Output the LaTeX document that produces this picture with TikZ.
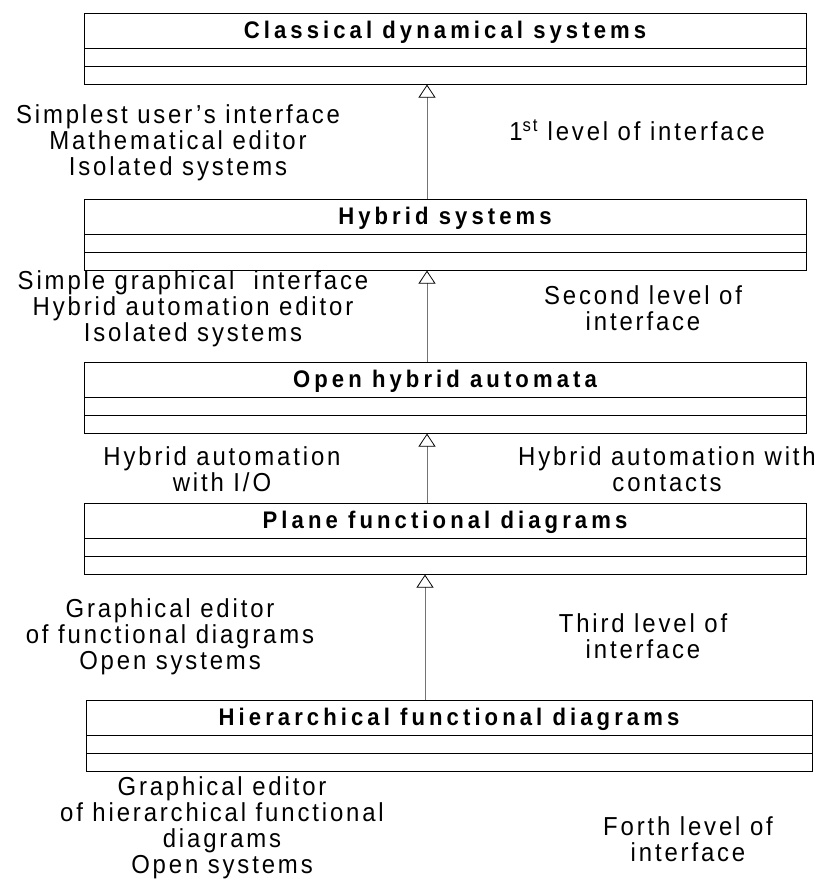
\documentclass[tikz,border=0pt]{standalone}
\usepackage{fontspec}
\setmainfont{Liberation Sans}
\usetikzlibrary{shapes.multipart,arrows.meta}

\tikzset{
  classbox/.style={draw, rectangle split, rectangle split parts=3,
    minimum width=722pt, inner xsep=0pt, inner ysep=0pt,
    rectangle split empty part height=17pt, rectangle split empty part depth=0pt,
    line width=0.9pt,
    font=\fontsize{24}{26}\selectfont\bfseries\addfontfeature{FakeStretch=0.92,LetterSpace=17}},
  note/.style={align=center,
    font=\fontsize{26}{26}\selectfont\addfontfeature{FakeStretch=0.92,LetterSpace=11}},
  inherit/.style={draw=black!55, line width=0.9pt,
    -{Triangle[open, width=17pt, length=13pt, fill=white, color=black, line width=0.8pt]}}
}
\newcommand{\titlerow}[1]{\rule[-9pt]{0pt}{34pt}#1}

\begin{document}
\begin{tikzpicture}[x=1pt, y=-1pt]
\useasboundingbox (0,0) rectangle (824,891);

% Classes
\node[classbox, anchor=north] (cds) at (445,13) {\titlerow{Classical dynamical systems}\nodepart{two}\nodepart{three}};
\node[classbox, anchor=north] (hs) at (445,199) {\titlerow{Hybrid systems}\nodepart{two}\nodepart{three}};
\node[classbox, anchor=north] (oha) at (445,362) {\titlerow{Open hybrid automata}\nodepart{two}\nodepart{three}};
\node[classbox, anchor=north] (pfd) at (445,503) {\titlerow{Plane functional diagrams}\nodepart{two}\nodepart{three}};
\node[classbox, anchor=north, minimum width=726pt] (hfd) at (449,700) {\titlerow{Hierarchical functional diagrams}\nodepart{two}\nodepart{three}};

% Generalizations
\draw[inherit] ([xshift=-18pt]hs.north) -- ([xshift=-18pt]cds.south);
\draw[inherit] ([xshift=-18pt]oha.north) -- ([xshift=-18pt]hs.south);
\draw[inherit] ([xshift=-18pt]pfd.north) -- ([xshift=-18pt]oha.south);
\draw[inherit] ([xshift=-24pt]hfd.north) -- ([xshift=-20pt]pfd.south);

% Notes, left
\node[note] (l1) at (178,143) {Simplest user's interface\\Mathematical editor\\Isolated systems};
\node[note] (l2) at (193,309) {Simple graphical\ \ interface\\Hybrid automation editor\\Isolated systems};
\node[note] (l3) at (222,469) {Hybrid automation\\with I/O};
\node[note] (l4) at (170,637) {Graphical editor\\of functional diagrams\\Open systems};
\node[note] (l5) at (222,828) {Graphical editor\\of hierarchical functional\\diagrams\\Open systems};

% Notes, right
\node[note] (r1) at (637,130) {1\textsuperscript{st} level of interface};
\node[note] (r2) at (643,308) {Second level of\\interface};
\node[note] (r3) at (667,469) {Hybrid automation with\\contacts};
\node[note] (r4) at (643,636) {Third level of\\interface};
\node[note] (r5) at (688,839) {Forth level of\\interface};
\end{tikzpicture}
\end{document}
